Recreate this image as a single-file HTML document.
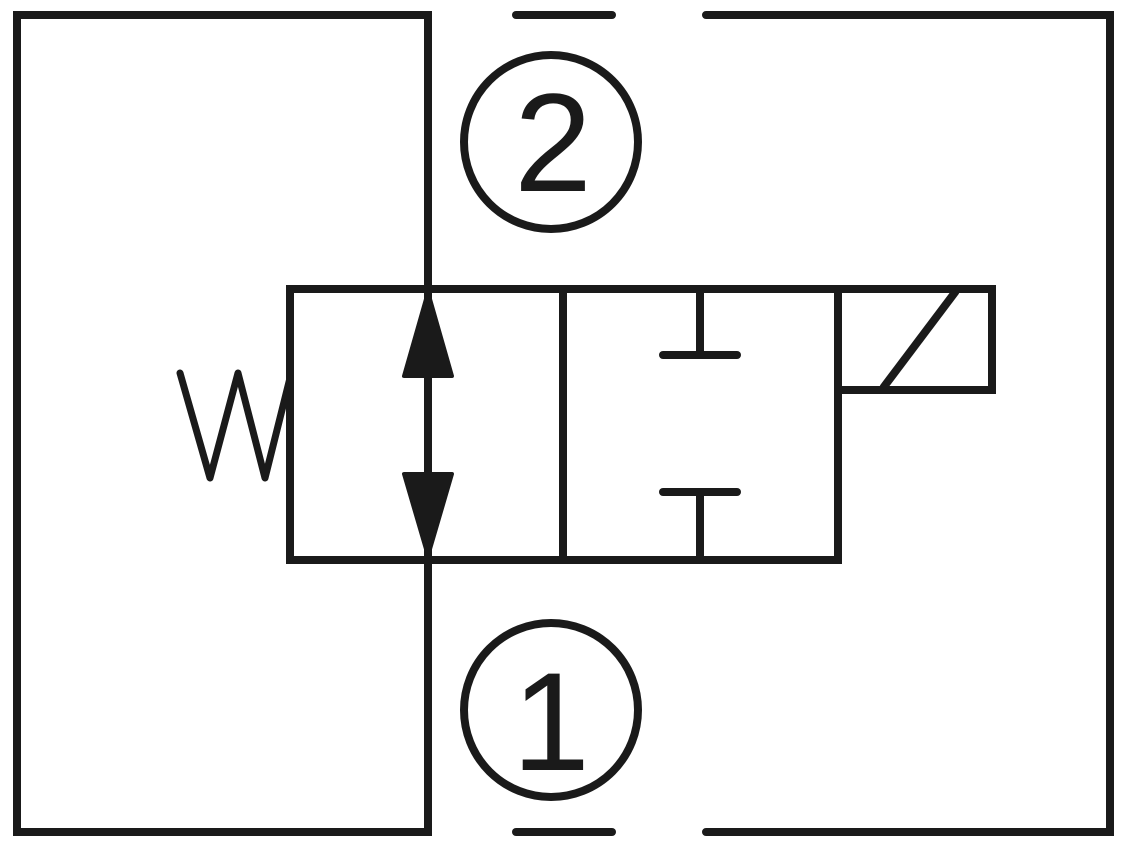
<!DOCTYPE html>
<html><head><style>html,body{margin:0;padding:0;background:#fff;}svg{display:block}</style></head>
<body>
<svg width="1124" height="855" viewBox="0 0 1124 855" xmlns="http://www.w3.org/2000/svg">
<g fill="none" stroke="#1a1a1a" stroke-width="8" stroke-linecap="butt" stroke-linejoin="miter">
<polyline points="428,560 428,832 17,832 17,15 428,15 428,289"/>
<line x1="516" y1="15" x2="612" y2="15" stroke-linecap="round"/>
<line x1="516" y1="832" x2="612" y2="832" stroke-linecap="round"/>
<polyline points="706,15 1110,15 1110,832 706,832" stroke-linecap="round"/>
<circle cx="551" cy="142" r="87"/>
<circle cx="551" cy="710" r="87"/>
<rect x="290" y="289" width="548" height="271"/>
<line x1="563" y1="289" x2="563" y2="560"/>
<polyline points="838,289 992,289 992,390 838,390"/>
<line x1="883" y1="388" x2="956" y2="291"/>
<line x1="428" y1="289" x2="428" y2="560"/>
<line x1="700" y1="289" x2="700" y2="355"/>
<line x1="663" y1="355" x2="737" y2="355" stroke-linecap="round"/>
<line x1="700" y1="492" x2="700" y2="560"/>
<line x1="663" y1="492" x2="737" y2="492" stroke-linecap="round"/>
<polyline points="180,373 210,478 238,373 265,478 290,378" stroke-width="7" stroke-linejoin="round" stroke-linecap="round"/>
</g>
<g fill="#1a1a1a" stroke="#1a1a1a" stroke-width="4" stroke-linejoin="round">
<polygon points="428,292 404,376 452,376"/>
<polygon points="428,556 404,474 452,474"/>
</g>
<text x="553" y="191" font-family="Liberation Sans, sans-serif" font-size="140" text-anchor="middle" fill="#1a1a1a">2</text>
<text x="551" y="770" font-family="Liberation Sans, sans-serif" font-size="140" text-anchor="middle" fill="#1a1a1a">1</text>
</svg>
</body></html>
